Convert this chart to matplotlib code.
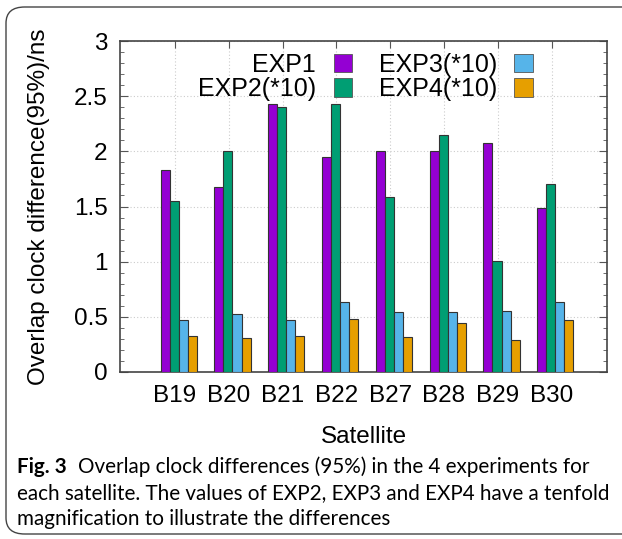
import numpy as np
import matplotlib
matplotlib.use("Agg")
import matplotlib.pyplot as plt
from matplotlib.patches import Patch, FancyBboxPatch
from matplotlib.ticker import MultipleLocator, FuncFormatter

# Data
satellites = ["B19", "B20", "B21", "B22", "B27", "B28", "B29", "B30"]
exp1 = [1.83, 1.68, 2.43, 1.95, 2.00, 2.00, 2.08, 1.49]
exp2 = [1.55, 2.00, 2.40, 2.43, 1.59, 2.15, 1.01, 1.70]  # *10
exp3 = [0.47, 0.53, 0.47, 0.63, 0.54, 0.54, 0.55, 0.63]  # *10
exp4 = [0.33, 0.31, 0.33, 0.48, 0.32, 0.44, 0.29, 0.47]  # *10

series = [exp1, exp2, exp3, exp4]
labels = ["EXP1", "EXP2(*10)", "EXP3(*10)", "EXP4(*10)"]
colors = ["#9400D3", "#009E73", "#56B4E9", "#E69F00"]

plt.rcParams['font.family'] = ['Liberation Sans', 'DejaVu Sans']
fs = 17.5

fig = plt.figure(figsize=(6.22, 5.39), dpi=100)
ax = fig.add_axes([120 / 622, 1 - 372 / 539, 487 / 622, 331 / 539])

x = np.arange(len(satellites))
w = 0.168
for k, (vals, col, lab) in enumerate(zip(series, colors, labels)):
    ax.bar(x + 0.07 + (k - 1.5) * w, vals, width=w, color=col,
           edgecolor="#333333", linewidth=0.8, label=lab, zorder=3)

ax.set_xlim(-1.02, 8.03)
ax.set_ylim(0, 3)
ax.yaxis.set_major_locator(MultipleLocator(0.5))
ax.yaxis.set_minor_locator(MultipleLocator(0.1))
ax.yaxis.set_major_formatter(FuncFormatter(lambda v, p: f"{v:g}"))
ax.set_xticks(x)
ax.set_xticklabels(satellites)
ax.tick_params(axis="x", which="both", bottom=False, top=True, direction="in",
               length=5, labelsize=fs, pad=9, color="#555555")
ax.tick_params(axis="y", which="both", left=True, right=True, direction="in",
               labelsize=fs, pad=9, color="#555555")
ax.tick_params(axis="y", which="major", length=6)
ax.tick_params(axis="y", which="minor", length=3)
ax.grid(True, which="major", linestyle=(0, (1, 2)), color="#cccccc", linewidth=0.8, zorder=0)
for s in ax.spines.values():
    s.set_color("#444444")
    s.set_linewidth(1.2)

ax.set_xlabel("Satellite", fontsize=fs, labelpad=14)
ax.set_ylabel("Overlap clock difference(95%)/ns", fontsize=fs, labelpad=17)

handles = [Patch(facecolor=c, edgecolor="#555555", linewidth=0.6) for c in colors]
ax.legend(handles, labels, ncol=2, markerfirst=False, frameon=False,
          fontsize=18, loc="upper center", bbox_to_anchor=(0.504, 0.995),
          handlelength=0.75, handleheight=0.75, handletextpad=0.7,
          columnspacing=1.05, labelspacing=0.02, borderaxespad=0)

# rounded frame around the figure panel and the caption
frame = FancyBboxPatch((6 / 622, 5 / 539), 700 / 622, 527 / 539,
                       boxstyle="round,pad=0,rounding_size=0.03",
                       transform=fig.transFigure, fill=False,
                       edgecolor="#444444", linewidth=1.0, clip_on=False)
fig.patches.append(frame)

cap_font = ['Lato', 'DejaVu Sans']
cfs = 14.9
fig.canvas.draw()
t0 = fig.text(17 / 622, 1 - 467 / 539, "Fig. 3", fontsize=cfs, fontweight="bold",
              family=cap_font, va="center", ha="left")
bb = t0.get_window_extent(fig.canvas.get_renderer())
fig.text((bb.x1 + 11) / 622, 1 - 467 / 539,
         "Overlap clock differences (95%) in the 4 experiments for",
         fontsize=cfs, family=cap_font, va="center", ha="left")
fig.text(17 / 622, 1 - 493 / 539,
         "each satellite. The values of EXP2, EXP3 and EXP4 have a tenfold",
         fontsize=cfs, family=cap_font, va="center", ha="left")
fig.text(17 / 622, 1 - 519 / 539,
         "magnification to illustrate the differences",
         fontsize=cfs, family=cap_font, va="center", ha="left")

fig.savefig("out.png", dpi=100)
